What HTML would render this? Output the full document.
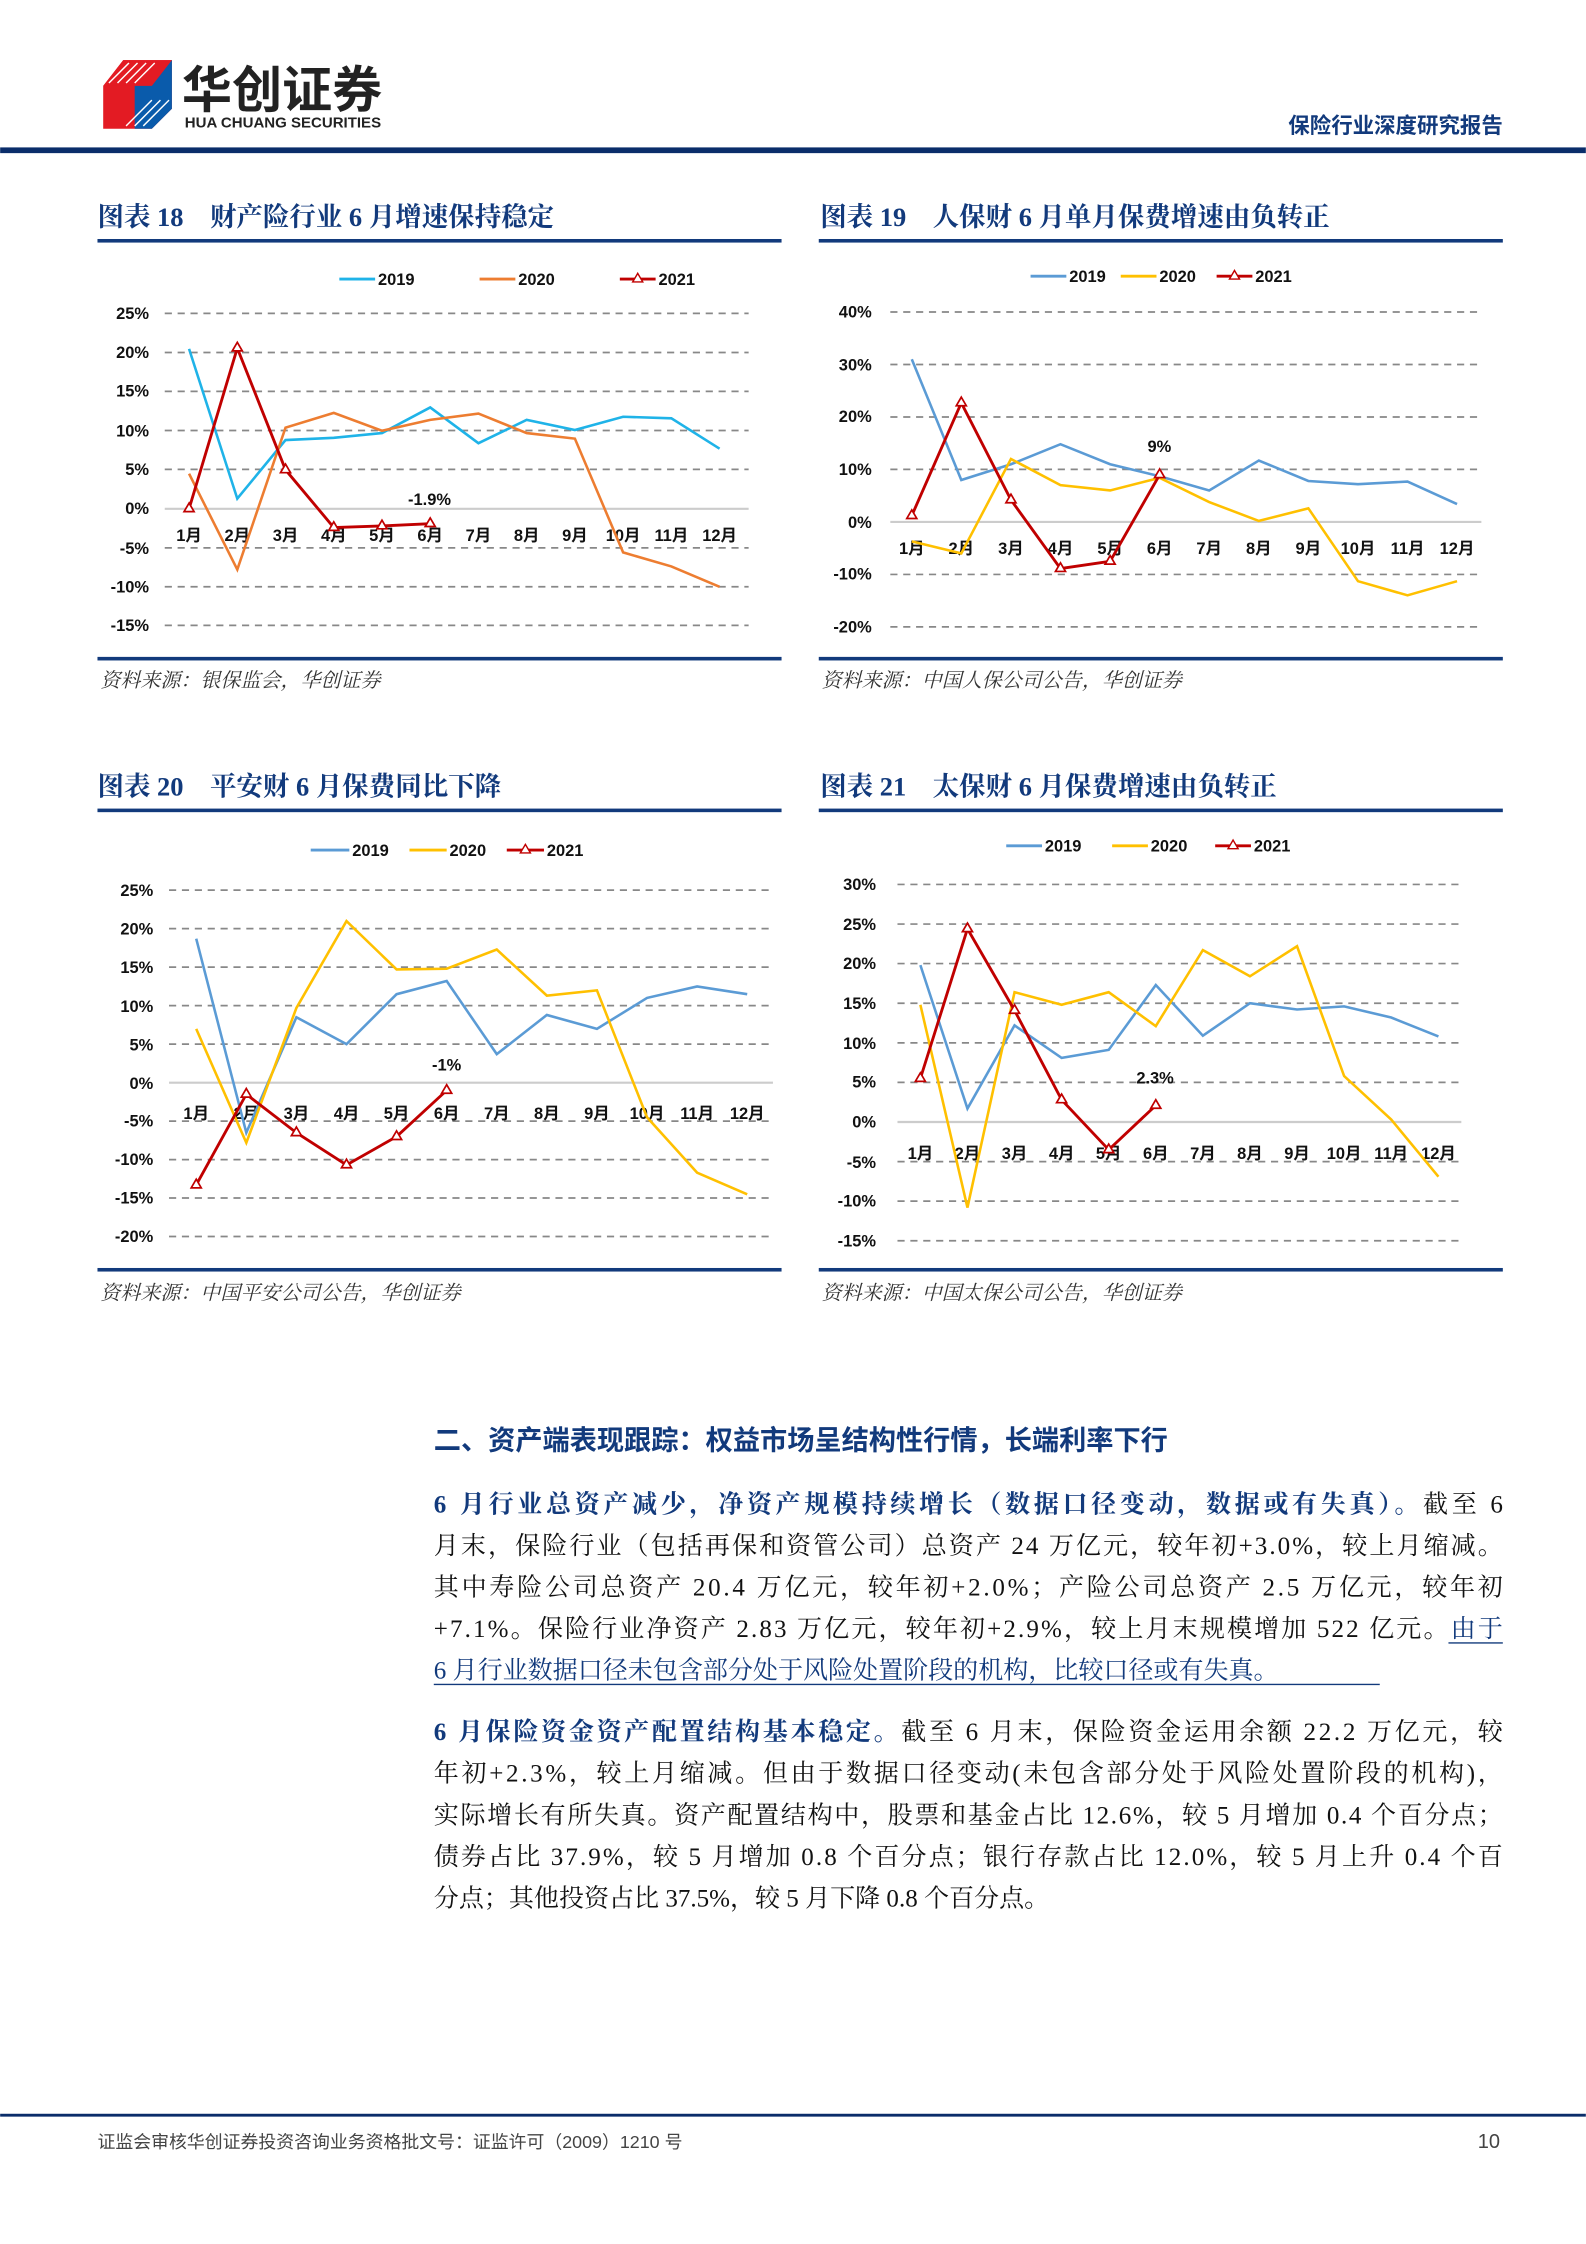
<!DOCTYPE html>
<html><head><meta charset="utf-8"><style>
html,body{margin:0;padding:0;background:#fff}
svg{display:block}
text{font-family:"Liberation Sans","Noto Sans CJK SC",sans-serif}
.t{font-family:"Liberation Serif","Noto Serif CJK SC",serif;font-weight:bold;fill:#123a7c;font-size:18.5px}
.src{font-family:"Liberation Serif","Noto Serif CJK SC",serif;font-style:italic;fill:#333;font-size:14px}
.ax{font-size:11.5px;font-weight:bold;fill:#111}
.g{stroke:#888;stroke-width:1.2;stroke-dasharray:5 4}
.p{font-family:"Liberation Serif","Noto Serif CJK SC",serif;font-size:17.5px;fill:#111}
.b{font-weight:bold;fill:#123a7c}
</style></head><body>
<svg width="1586" height="2244" viewBox="0 0 1108 1568" xmlns="http://www.w3.org/2000/svg">
<rect width="1108" height="1568" fill="#fff"/>
<!-- header -->
<polygon points="72,60 86,42 120,42 120,76 106,90 72,90" fill="#e31b23"/>
<polygon points="94,60 120,42 120,76 106,90 94,90" fill="#0a5bab"/>
<polygon points="72,60 86,42 120,42 106,60" fill="#e31b23"/>
<g stroke="#fff" stroke-width="1"><line x1="76" y1="58" x2="90" y2="44"/><line x1="82" y1="58" x2="96" y2="44"/><line x1="88" y1="58" x2="102" y2="44"/><line x1="94" y1="58" x2="108" y2="44"/><line x1="100" y1="88" x2="118" y2="70"/><line x1="94" y1="88" x2="112" y2="70"/><line x1="88" y1="88" x2="106" y2="70"/></g>
<text x="127" y="75" font-size="35" font-weight="bold" fill="#222">华创证券</text>
<text x="129" y="89" font-size="10.5" font-weight="bold" fill="#222">HUA CHUANG SECURITIES</text>
<rect x="0" y="103" width="1108" height="4" fill="#0a2d6a"/>
<text x="1050" y="93" text-anchor="end" font-size="15" font-weight="bold" fill="#123a7c">保险行业深度研究报告</text>

<!-- Chart 18 -->
<text class="t" x="68" y="158">图表 18　财产险行业 6 月增速保持稳定</text>
<rect x="68" y="167" width="478" height="2.5" fill="#123a7c"/>
<g class="ax">
<line x1="237" y1="195" x2="262" y2="195" stroke="#1fb3e8" stroke-width="2"/><text x="264" y="199">2019</text>
<line x1="335" y1="195" x2="360" y2="195" stroke="#ed7d31" stroke-width="2"/><text x="362" y="199">2020</text>
<line x1="433" y1="195" x2="458" y2="195" stroke="#c00000" stroke-width="2"/><polygon points="445.5,191 449,197 442,197" fill="#fff" stroke="#c00000"/><text x="460" y="199">2021</text>
</g>
<g>
<line class="g" x1="115" y1="219" x2="523" y2="219"/><line class="g" x1="115" y1="246.3" x2="523" y2="246.3"/><line class="g" x1="115" y1="273.5" x2="523" y2="273.5"/><line class="g" x1="115" y1="300.8" x2="523" y2="300.8"/><line class="g" x1="115" y1="328" x2="523" y2="328"/><line x1="115" y1="355.5" x2="523" y2="355.5" stroke="#ccc" stroke-width="1.5"/><line class="g" x1="115" y1="382.8" x2="523" y2="382.8"/><line class="g" x1="115" y1="410" x2="523" y2="410"/><line class="g" x1="115" y1="437" x2="523" y2="437"/>
</g>
<g class="ax" text-anchor="end">
<text x="104" y="223">25%</text><text x="104" y="250">20%</text><text x="104" y="277">15%</text><text x="104" y="305">10%</text><text x="104" y="332">5%</text><text x="104" y="359">0%</text><text x="104" y="387">-5%</text><text x="104" y="414">-10%</text><text x="104" y="441">-15%</text>
</g>
<g class="ax" text-anchor="middle">
<text x="132" y="378">1月</text><text x="165.7" y="378">2月</text><text x="199.4" y="378">3月</text><text x="233.1" y="378">4月</text><text x="266.8" y="378">5月</text><text x="300.5" y="378">6月</text><text x="334.2" y="378">7月</text><text x="367.9" y="378">8月</text><text x="401.6" y="378">9月</text><text x="435.3" y="378">10月</text><text x="469" y="378">11月</text><text x="502.7" y="378">12月</text>
</g>
<polyline fill="none" stroke="#1fb3e8" stroke-width="1.8" points="132,243.8 165.7,348.4 199.4,307.5 233.1,305.9 266.8,302.6 300.5,284.7 334.2,309.7 367.9,293.4 401.6,300.5 435.3,291.2 469,292.3 502.7,313.5"/>
<polyline fill="none" stroke="#ed7d31" stroke-width="1.8" points="132,331 165.7,398 199.4,298.8 233.1,288.5 266.8,301 300.5,293.4 334.2,289 367.9,302.6 401.6,306.5 435.3,386 469,395.8 502.7,410"/>
<polyline fill="none" stroke="#c00000" stroke-width="2" points="132,355.5 165.7,243.2 199.4,328.3 233.1,368.6 266.8,367.5 300.5,365.9"/>
<g fill="#fff" stroke="#c00000" stroke-width="1.2"><polygon points="132,351.5 135.5,357.5 128.5,357.5"/><polygon points="165.7,239.2 169.2,245.2 162.2,245.2"/><polygon points="199.4,324.3 202.9,330.3 195.9,330.3"/><polygon points="233.1,364.6 236.6,370.6 229.6,370.6"/><polygon points="266.8,363.5 270.3,369.5 263.3,369.5"/><polygon points="300.5,361.9 304,367.9 297,367.9"/></g>
<text class="ax" x="300" y="353" font-weight="normal" text-anchor="middle">-1.9%</text>
<rect x="68" y="459" width="478" height="2.5" fill="#123a7c"/>
<text class="src" x="70" y="480">资料来源：银保监会，华创证券</text>

<!-- Chart 19 -->
<text class="t" x="573" y="158">图表 19　人保财 6 月单月保费增速由负转正</text>
<rect x="572" y="167" width="478" height="2.5" fill="#123a7c"/>
<g class="ax">
<line x1="720" y1="193" x2="745" y2="193" stroke="#5b9bd5" stroke-width="2"/><text x="747" y="197">2019</text>
<line x1="783" y1="193" x2="808" y2="193" stroke="#ffc000" stroke-width="2"/><text x="810" y="197">2020</text>
<line x1="850" y1="193" x2="875" y2="193" stroke="#c00000" stroke-width="2"/><polygon points="862.5,189 866,195 859,195" fill="#fff" stroke="#c00000"/><text x="877" y="197">2021</text>
</g>
<g>
<line class="g" x1="622" y1="218" x2="1035" y2="218"/><line class="g" x1="622" y1="254.7" x2="1035" y2="254.7"/><line class="g" x1="622" y1="291.4" x2="1035" y2="291.4"/><line class="g" x1="622" y1="328" x2="1035" y2="328"/><line x1="622" y1="364.7" x2="1035" y2="364.7" stroke="#ccc" stroke-width="1.5"/><line class="g" x1="622" y1="401.4" x2="1035" y2="401.4"/><line class="g" x1="622" y1="438" x2="1035" y2="438"/>
</g>
<g class="ax" text-anchor="end">
<text x="609" y="222">40%</text><text x="609" y="259">30%</text><text x="609" y="295">20%</text><text x="609" y="332">10%</text><text x="609" y="369">0%</text><text x="609" y="405">-10%</text><text x="609" y="442">-20%</text>
</g>
<g class="ax" text-anchor="middle">
<text x="637" y="387">1月</text><text x="671.6" y="387">2月</text><text x="706.3" y="387">3月</text><text x="740.9" y="387">4月</text><text x="775.6" y="387">5月</text><text x="810.2" y="387">6月</text><text x="844.8" y="387">7月</text><text x="879.5" y="387">8月</text><text x="914.1" y="387">9月</text><text x="948.8" y="387">10月</text><text x="983.4" y="387">11月</text><text x="1018" y="387">12月</text>
</g>
<polyline fill="none" stroke="#5b9bd5" stroke-width="1.8" points="637,251 671.6,335.4 706.3,324.4 740.9,310.4 775.6,324.4 810.2,332.8 844.8,342.7 879.5,321.8 914.1,336.1 948.8,338.3 983.4,336.5 1018,352.2"/>
<polyline fill="none" stroke="#ffc000" stroke-width="1.8" points="637,378.3 671.6,386.7 706.3,320.7 740.9,339 775.6,342.7 810.2,333.9 844.8,350.8 879.5,364 914.1,355.2 948.8,406.1 983.4,416 1018,406.1"/>
<polyline fill="none" stroke="#c00000" stroke-width="2" points="637,360.3 671.6,281.5 706.3,349.3 740.9,397.3 775.6,392.2 810.2,331.7"/>
<g fill="#fff" stroke="#c00000" stroke-width="1.2"><polygon points="637,356.3 640.5,362.3 633.5,362.3"/><polygon points="671.6,277.5 675.1,283.5 668.1,283.5"/><polygon points="706.3,345.3 709.8,351.3 702.8,351.3"/><polygon points="740.9,393.3 744.4,399.3 737.4,399.3"/><polygon points="775.6,388.2 779.1,394.2 772.1,394.2"/><polygon points="810.2,327.7 813.7,333.7 806.7,333.7"/></g>
<text class="ax" x="810" y="316" text-anchor="middle">9%</text>
<rect x="572" y="459" width="478" height="2.5" fill="#123a7c"/>
<text class="src" x="574" y="480">资料来源：中国人保公司公告，华创证券</text>

<!-- Chart 20 -->
<text class="t" x="68" y="556">图表 20　平安财 6 月保费同比下降</text>
<rect x="68" y="565" width="478" height="2.5" fill="#123a7c"/>
<g class="ax">
<line x1="217" y1="594" x2="244" y2="594" stroke="#5b9bd5" stroke-width="2"/><text x="246" y="598">2019</text>
<line x1="286" y1="594" x2="312" y2="594" stroke="#ffc000" stroke-width="2"/><text x="314" y="598">2020</text>
<line x1="354" y1="594" x2="380" y2="594" stroke="#c00000" stroke-width="2"/><polygon points="367,590 370.5,596 363.5,596" fill="#fff" stroke="#c00000"/><text x="382" y="598">2021</text>
</g>
<g>
<line class="g" x1="118" y1="622" x2="540" y2="622"/><line class="g" x1="118" y1="648.9" x2="540" y2="648.9"/><line class="g" x1="118" y1="675.8" x2="540" y2="675.8"/><line class="g" x1="118" y1="702.7" x2="540" y2="702.7"/><line class="g" x1="118" y1="729.6" x2="540" y2="729.6"/><line x1="118" y1="756.5" x2="540" y2="756.5" stroke="#ccc" stroke-width="1.5"/><line class="g" x1="118" y1="783.4" x2="540" y2="783.4"/><line class="g" x1="118" y1="810.3" x2="540" y2="810.3"/><line class="g" x1="118" y1="837.1" x2="540" y2="837.1"/><line class="g" x1="118" y1="864" x2="540" y2="864"/>
</g>
<g class="ax" text-anchor="end">
<text x="107" y="626">25%</text><text x="107" y="653">20%</text><text x="107" y="680">15%</text><text x="107" y="707">10%</text><text x="107" y="734">5%</text><text x="107" y="761">0%</text><text x="107" y="787">-5%</text><text x="107" y="814">-10%</text><text x="107" y="841">-15%</text><text x="107" y="868">-20%</text>
</g>
<g class="ax" text-anchor="middle">
<text x="137" y="782">1月</text><text x="172" y="782">2月</text><text x="207" y="782">3月</text><text x="242" y="782">4月</text><text x="277" y="782">5月</text><text x="312" y="782">6月</text><text x="347" y="782">7月</text><text x="382" y="782">8月</text><text x="417" y="782">9月</text><text x="452" y="782">10月</text><text x="487" y="782">11月</text><text x="522" y="782">12月</text>
</g>
<polyline fill="none" stroke="#5b9bd5" stroke-width="1.8" points="137,655.9 172,791.5 207,710.8 242,729.6 277,694.7 312,685.5 347,736.6 382,709.2 417,718.9 452,697.3 487,689.3 522,694.7"/>
<polyline fill="none" stroke="#ffc000" stroke-width="1.8" points="137,718.9 172,798.5 207,704.3 242,643.6 277,677.4 312,676.9 347,663.5 382,695.7 417,692 452,780.7 487,819.4 522,834.5"/>
<polyline fill="none" stroke="#c00000" stroke-width="2" points="137,828 172,764.6 207,791.5 242,814 277,794.2 312,761.9"/>
<g fill="#fff" stroke="#c00000" stroke-width="1.2"><polygon points="137,824 140.5,830 133.5,830"/><polygon points="172,760.6 175.5,766.6 168.5,766.6"/><polygon points="207,787.5 210.5,793.5 203.5,793.5"/><polygon points="242,810 245.5,816 238.5,816"/><polygon points="277,790.2 280.5,796.2 273.5,796.2"/><polygon points="312,757.9 315.5,763.9 308.5,763.9"/></g>
<text class="ax" x="312" y="748" text-anchor="middle">-1%</text>
<rect x="68" y="886" width="478" height="2.5" fill="#123a7c"/>
<text class="src" x="70" y="908">资料来源：中国平安公司公告，华创证券</text>

<!-- Chart 21 -->
<text class="t" x="573" y="556">图表 21　太保财 6 月保费增速由负转正</text>
<rect x="572" y="565" width="478" height="2.5" fill="#123a7c"/>
<g class="ax">
<line x1="703" y1="591" x2="728" y2="591" stroke="#5b9bd5" stroke-width="2"/><text x="730" y="595">2019</text>
<line x1="777" y1="591" x2="802" y2="591" stroke="#ffc000" stroke-width="2"/><text x="804" y="595">2020</text>
<line x1="849" y1="591" x2="874" y2="591" stroke="#c00000" stroke-width="2"/><polygon points="861.5,587 865,593 858,593" fill="#fff" stroke="#c00000"/><text x="876" y="595">2021</text>
</g>
<g>
<line class="g" x1="627" y1="618" x2="1021" y2="618"/><line class="g" x1="627" y1="645.7" x2="1021" y2="645.7"/><line class="g" x1="627" y1="673.3" x2="1021" y2="673.3"/><line class="g" x1="627" y1="701" x2="1021" y2="701"/><line class="g" x1="627" y1="728.7" x2="1021" y2="728.7"/><line class="g" x1="627" y1="756.3" x2="1021" y2="756.3"/><line x1="627" y1="784" x2="1021" y2="784" stroke="#ccc" stroke-width="1.5"/><line class="g" x1="627" y1="811.7" x2="1021" y2="811.7"/><line class="g" x1="627" y1="839.3" x2="1021" y2="839.3"/><line class="g" x1="627" y1="867" x2="1021" y2="867"/>
</g>
<g class="ax" text-anchor="end">
<text x="612" y="622">30%</text><text x="612" y="650">25%</text><text x="612" y="677">20%</text><text x="612" y="705">15%</text><text x="612" y="733">10%</text><text x="612" y="760">5%</text><text x="612" y="788">0%</text><text x="612" y="816">-5%</text><text x="612" y="843">-10%</text><text x="612" y="871">-15%</text>
</g>
<g class="ax" text-anchor="middle">
<text x="643" y="810">1月</text><text x="675.9" y="810">2月</text><text x="708.8" y="810">3月</text><text x="741.7" y="810">4月</text><text x="774.6" y="810">5月</text><text x="807.5" y="810">6月</text><text x="840.4" y="810">7月</text><text x="873.3" y="810">8月</text><text x="906.2" y="810">9月</text><text x="939.1" y="810">10月</text><text x="972" y="810">11月</text><text x="1005" y="810">12月</text>
</g>
<polyline fill="none" stroke="#5b9bd5" stroke-width="1.8" points="643,674.4 675.9,774.6 708.8,716.5 741.7,739.2 774.6,733.6 807.5,688.3 840.4,723.7 873.3,701 906.2,705.4 939.1,703.2 972,711 1005,724.2"/>
<polyline fill="none" stroke="#ffc000" stroke-width="1.8" points="643,702.1 675.9,843.8 708.8,693.3 741.7,702.1 774.6,693.3 807.5,717 840.4,663.9 873.3,682.2 906.2,661.2 939.1,751.9 972,782.3 1005,822.2"/>
<polyline fill="none" stroke="#c00000" stroke-width="2" points="643,753.6 675.9,649 708.8,706 741.7,768.5 774.6,803.4 807.5,772.4"/>
<g fill="#fff" stroke="#c00000" stroke-width="1.2"><polygon points="643,749.6 646.5,755.6 639.5,755.6"/><polygon points="675.9,645 679.4,651 672.4,651"/><polygon points="708.8,702 712.3,708 705.3,708"/><polygon points="741.7,764.5 745.2,770.5 738.2,770.5"/><polygon points="774.6,799.4 778.1,805.4 771.1,805.4"/><polygon points="807.5,768.4 811,774.4 804,774.4"/></g>
<text class="ax" x="807" y="757" text-anchor="middle">2.3%</text>
<rect x="572" y="886" width="478" height="2.5" fill="#123a7c"/>
<text class="src" x="574" y="908">资料来源：中国太保公司公告，华创证券</text>

<!-- text section -->
<text x="303" y="1013" font-size="19" font-weight="bold" fill="#123a7c" font-family="Liberation Serif, Noto Serif CJK SC, serif">二、资产端表现跟踪：权益市场呈结构性行情，长端利率下行</text>
<text class="p" x="303" y="1057" textLength="747" lengthAdjust="spacing"><tspan class="b">6 月行业总资产减少，净资产规模持续增长（数据口径变动，数据或有失真）。</tspan>截至 6</text>
<text class="p" x="303" y="1086" textLength="747" lengthAdjust="spacing">月末，保险行业（包括再保和资管公司）总资产 24 万亿元，较年初+3.0%，较上月缩减。</text>
<text class="p" x="303" y="1115" textLength="747" lengthAdjust="spacing">其中寿险公司总资产 20.4 万亿元，较年初+2.0%；产险公司总资产 2.5 万亿元，较年初</text>
<text class="p" x="303" y="1144" textLength="747" lengthAdjust="spacing">+7.1%。保险行业净资产 2.83 万亿元，较年初+2.9%，较上月末规模增加 522 亿元。<tspan fill="#123a7c">由于</tspan></text>
<line x1="1012" y1="1148" x2="1050" y2="1148" stroke="#123a7c" stroke-width="1"/>
<text class="p" x="303" y="1173" style="fill:#123a7c">6 月行业数据口径未包含部分处于风险处置阶段的机构，比较口径或有失真。</text>
<line x1="303" y1="1177" x2="964" y2="1177" stroke="#123a7c" stroke-width="1"/>
<text class="p" x="303" y="1216" textLength="747" lengthAdjust="spacing"><tspan class="b">6 月保险资金资产配置结构基本稳定。</tspan>截至 6 月末，保险资金运用余额 22.2 万亿元，较</text>
<text class="p" x="303" y="1245" textLength="747" lengthAdjust="spacing">年初+2.3%，较上月缩减。但由于数据口径变动(未包含部分处于风险处置阶段的机构)，</text>
<text class="p" x="303" y="1274" textLength="747" lengthAdjust="spacing">实际增长有所失真。资产配置结构中，股票和基金占比 12.6%，较 5 月增加 0.4 个百分点；</text>
<text class="p" x="303" y="1303" textLength="747" lengthAdjust="spacing">债券占比 37.9%，较 5 月增加 0.8 个百分点；银行存款占比 12.0%，较 5 月上升 0.4 个百</text>
<text class="p" x="303" y="1332">分点；其他投资占比 37.5%，较 5 月下降 0.8 个百分点。</text>

<!-- footer -->
<rect x="0" y="1477" width="1108" height="2" fill="#0a2d6a"/>
<text x="68" y="1501" font-size="12.5" fill="#444" font-family="Liberation Serif, Noto Serif CJK SC, serif">证监会审核华创证券投资咨询业务资格批文号：证监许可（2009）1210 号</text>
<text x="1048" y="1501" font-size="14" fill="#444" text-anchor="end" font-family="Liberation Serif, serif">10</text>
</svg>
</body></html>
